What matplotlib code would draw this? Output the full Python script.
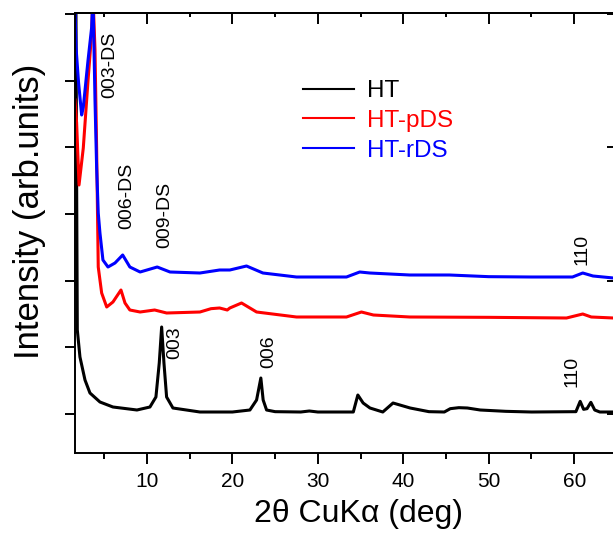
import matplotlib
matplotlib.use("Agg")
import matplotlib.pyplot as plt

plt.rcParams['font.family'] = ['Liberation Sans', 'DejaVu Sans']

# XRD patterns, intensity in arbitrary units (curves stacked with offsets)
ht_x = [1.62, 1.77, 1.85, 2.16, 2.75, 3.33, 4.5, 6.02, 8.83, 10.35, 11.05, 11.44,
        11.72, 11.99, 12.3, 13.04, 16.2, 20.0, 22.05, 22.83, 23.33, 23.6, 24.0,
        25.0, 28.0, 29.0, 30.0, 34.15, 34.68, 35.3, 36.1, 37.6, 38.8, 40.8, 43.0,
        44.8, 45.5, 46.5, 47.5, 49.0, 52.0, 55.0, 60.2, 60.7, 61.1, 61.5, 61.95,
        62.4, 63.0, 64.6]
ht_y = [9500, 4500, 2260, 1855, 1510, 1315, 1180, 1105, 1060, 1105, 1255, 1765,
        2305, 1765, 1255, 1090, 1030, 1030, 1060, 1210, 1540, 1210, 1060,
        1035, 1030, 1045, 1030, 1030, 1285, 1165, 1090, 1030, 1165, 1090, 1035,
        1030, 1080, 1095, 1090, 1060, 1040, 1030, 1035, 1190, 1070, 1080, 1175,
        1060, 1030, 1030]

pds_x = [1.58, 1.77, 2.05, 2.55, 3.1, 3.53, 3.68, 3.92, 4.11, 4.30, 4.70, 5.29,
         6.02, 6.96, 7.43, 8.0, 9.2, 10.9, 12.3, 16.2, 17.5, 18.5, 19.4, 19.7,
         21.07, 22.83, 27.5, 33.35, 35.1, 36.5, 40.76, 50.0, 59.1, 61.0, 62.0, 64.6]
pds_y = [5710, 5365, 4435, 4990, 5995, 6715, 7300, 6460, 5000, 3205, 2815, 2605,
         2680, 2860, 2665, 2560, 2530, 2560, 2515, 2530, 2580, 2590, 2560, 2590,
         2665, 2530, 2455, 2455, 2530, 2485, 2455, 2450, 2440, 2500, 2455, 2440]

rds_x = [1.58, 1.70, 2.0, 2.36, 2.55, 3.1, 3.53, 3.68, 3.92, 4.11, 4.30, 4.50,
         4.85, 5.44, 6.26, 7.16, 8.0, 9.2, 11.2, 12.7, 16.2, 18.5, 19.7, 21.65,
         23.57, 27.5, 33.35, 34.9, 36.08, 40.76, 45.4, 50.0, 55.0, 59.8, 61.0,
         62.2, 64.6]
rds_y = [7100, 6500, 5965, 5485, 5600, 6300, 6800, 7300, 5710, 4705, 4015, 3715,
         3310, 3205, 3265, 3385, 3205, 3130, 3205, 3130, 3115, 3160, 3160, 3220,
         3115, 3055, 3055, 3130, 3115, 3085, 3085, 3060, 3055, 3055, 3115,
         3070, 3040]

# peak labels
peak_labels = ['003-DS', '006-DS', '009-DS', '003', '006', '110', '110']
peak_x = [5.67, 7.66, 12.1, 13.3, 24.2, 59.8, 60.9]
peak_y = [6235, 4270, 3985, 2065, 1930, 1645, 3475]

fig = plt.figure(figsize=(6.13, 5.33), dpi=100)
ax = fig.add_axes([75/613, 80/533, 538.5/613, 440/533])

ax.plot(ht_x, ht_y, color='black', lw=2.2, label='HT')
ax.plot(pds_x, pds_y, color='red', lw=2.2, label='HT-pDS')
ax.plot(rds_x, rds_y, color='blue', lw=2.2, label='HT-rDS')

for t, x, y in zip(peak_labels, peak_x, peak_y):
    ax.text(x, y, t, rotation=90, ha='center', va='center', fontsize=14)

ax.set_xlim(1.58, 64.6)
ax.set_ylim(415, 7015)

for s in ax.spines.values():
    s.set_linewidth(1.4)

ax.set_xticks([10, 20, 30, 40, 50, 60])
ax.set_xticks([5, 15, 25, 35, 45, 55], minor=True)
ax.set_yticks([1000, 2000, 3000, 4000, 5000, 6000, 7000])
ax.tick_params(axis='x', which='major', direction='out', length=8, width=1.4,
               labelsize=15, pad=6)
ax.tick_params(axis='x', which='minor', direction='out', length=4, width=1.4)
ax.tick_params(axis='y', which='major', direction='out', length=7, width=1.4,
               labelleft=False)

top = ax.secondary_xaxis('top')
top.set_xticks([10, 20, 30, 40, 50, 60])
top.set_xticks([5, 15, 25, 35, 45, 55], minor=True)
top.tick_params(which='major', direction='in', length=8, width=1.4, labeltop=False)
top.tick_params(which='minor', direction='in', length=3, width=1.4)
top.spines['top'].set_linewidth(1.4)

right = ax.secondary_yaxis('right')
right.set_yticks([1000, 3000, 5000, 7000])
right.tick_params(direction='in', length=5, width=1.4, labelright=False)
right.spines['right'].set_linewidth(1.4)

leg = ax.legend(loc='upper left', bbox_to_anchor=(303/613, 1 - 80/533),
                bbox_transform=fig.transFigure, frameon=False, fontsize=17.5,
                handlelength=2.1, handletextpad=0.55, labelspacing=0.32,
                borderpad=0, borderaxespad=0)
for txt, line in zip(leg.get_texts(), leg.get_lines()):
    txt.set_color(line.get_color())
    line.set_linewidth(1.5)

fig.text(359/613, 1 - 514/533, '2θ CuKα (deg)', ha='center', va='center', fontsize=23)
fig.text(30/613, 1 - 211/533, 'Intensity (arb.units)', ha='center', va='center',
         rotation=90, fontsize=25)

fig.savefig('out.png', dpi=100)
